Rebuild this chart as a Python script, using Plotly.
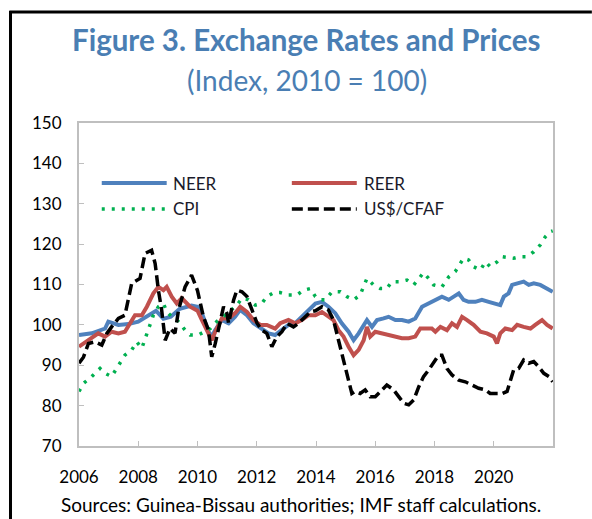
import plotly.graph_objects as go

# ---- data (index 2010 = 100) ----
NEER_X = [2006.00, 2006.43, 2006.88, 2006.99, 2007.33, 2007.67, 2008.00, 2008.35, 2008.60, 2008.85,
          2009.10, 2009.40, 2009.80, 2010.00, 2010.15, 2010.37, 2010.48, 2010.60, 2010.82, 2011.05,
          2011.27, 2011.44, 2011.67, 2011.89, 2012.17, 2012.40, 2012.62, 2012.85, 2013.07, 2013.30,
          2013.52, 2013.75, 2013.98, 2014.20, 2014.42, 2014.65, 2014.87, 2015.10, 2015.27, 2015.44,
          2015.61, 2015.72, 2015.89, 2016.06, 2016.28, 2016.45, 2016.68, 2016.90, 2017.13, 2017.35,
          2017.58, 2017.80, 2018.03, 2018.25, 2018.48, 2018.70, 2018.82, 2018.98, 2019.15, 2019.38,
          2019.60, 2019.83, 2020.05, 2020.22, 2020.34, 2020.50, 2020.62, 2020.79, 2021.01, 2021.18,
          2021.35, 2021.57, 2021.80, 2021.99]
NEER = [97.5, 97.9, 99.1, 100.8, 100.0, 100.2, 100.8, 102.5, 103.5, 101.5,
        102.0, 104.0, 104.8, 104.5, 102.9, 98.3, 97.1, 98.7, 101.2, 100.4,
        102.0, 103.7, 102.4, 100.4, 99.1, 97.9, 97.5, 98.7, 100.0, 100.4,
        102.0, 103.7, 105.3, 105.7, 104.5, 102.9, 100.4, 98.3, 96.2, 97.9,
        100.0, 101.2, 99.5, 101.2, 101.6, 102.0, 101.2, 101.2, 100.8, 101.6,
        104.5, 105.3, 106.2, 107.0, 106.2, 107.4, 107.8, 106.2, 105.7, 105.7,
        106.2, 105.7, 105.3, 104.9, 107.0, 107.8, 109.9, 110.3, 110.7, 109.9,
        110.3, 109.9, 109.0, 108.2]

REER_X = [2006.00, 2006.32, 2006.65, 2006.88, 2007.10, 2007.33, 2007.55, 2007.89, 2008.12, 2008.29,
          2008.51, 2008.68, 2008.85, 2008.96, 2009.13, 2009.30, 2009.47, 2009.75, 2010.00, 2010.15,
          2010.37, 2010.48, 2010.60, 2010.82, 2011.05, 2011.27, 2011.44, 2011.67, 2011.89, 2012.12,
          2012.34, 2012.62, 2012.79, 2013.07, 2013.30, 2013.52, 2013.75, 2013.98, 2014.20, 2014.42,
          2014.59, 2014.76, 2014.93, 2015.10, 2015.27, 2015.44, 2015.61, 2015.72, 2015.83, 2016.00,
          2016.23, 2016.45, 2016.68, 2016.90, 2017.13, 2017.35, 2017.52, 2017.69, 2017.91, 2018.03,
          2018.20, 2018.42, 2018.59, 2018.76, 2018.93, 2019.10, 2019.32, 2019.55, 2019.77, 2020.00,
          2020.11, 2020.22, 2020.39, 2020.62, 2020.79, 2021.01, 2021.24, 2021.40, 2021.63, 2021.80,
          2021.99]
REER = [94.6, 96.2, 97.9, 97.1, 98.3, 97.9, 98.3, 102.4, 102.4, 104.5,
        107.8, 109.4, 108.6, 109.4, 107.0, 105.3, 106.6, 104.5, 103.5, 101.2,
        97.9, 96.2, 98.3, 101.6, 101.6, 102.9, 104.5, 103.2, 101.2, 100.0,
        100.0, 99.1, 100.4, 101.2, 100.4, 101.2, 102.4, 102.4, 103.2, 102.0,
        101.2, 98.7, 97.1, 94.6, 92.5, 93.8, 96.2, 99.5, 97.1, 98.3,
        97.9, 97.5, 97.1, 96.7, 96.7, 97.1, 99.1, 99.1, 99.1, 98.3,
        99.5, 98.7, 100.4, 99.5, 102.0, 101.2, 100.0, 98.3, 97.9, 97.1,
        95.4, 97.9, 99.1, 98.7, 100.0, 99.5, 99.1, 100.0, 101.2, 100.0,
        99.1]

CPI_X = [2006.00, 2006.15, 2006.43, 2006.71, 2006.88, 2007.10, 2007.27, 2007.55, 2007.78, 2007.95,
         2008.12, 2008.23, 2008.40, 2008.51, 2008.68, 2008.85, 2008.96, 2009.13, 2009.36, 2009.58,
         2009.75, 2010.03, 2010.43, 2010.65, 2010.93, 2011.16, 2011.33, 2011.50, 2011.72, 2011.95,
         2012.17, 2012.34, 2012.57, 2012.79, 2013.07, 2013.36, 2013.58, 2013.81, 2013.98, 2014.14,
         2014.31, 2014.54, 2014.82, 2015.04, 2015.27, 2015.49, 2015.72, 2015.94, 2016.17, 2016.39,
         2016.56, 2016.84, 2017.07, 2017.30, 2017.47, 2017.63, 2017.80, 2017.97, 2018.25, 2018.48,
         2018.70, 2018.98, 2019.15, 2019.32, 2019.55, 2019.72, 2019.88, 2020.11, 2020.28, 2020.45,
         2020.67, 2020.90, 2021.12, 2021.35, 2021.57, 2021.74, 2021.91, 2021.99]
CPI = [83.5, 85.5, 87.2, 89.2, 88.0, 87.2, 89.2, 92.5, 93.8, 95.8,
       94.2, 96.6, 100.0, 102.4, 104.5, 105.3, 103.3, 102.0, 100.8, 98.7,
       97.5, 97.5, 99.1, 100.8, 102.4, 103.7, 104.9, 106.6, 106.2, 104.9,
       105.3, 107.0, 108.0, 108.0, 107.4, 107.4, 108.6, 109.0, 107.0, 106.2,
       106.2, 108.2, 108.2, 107.0, 106.2, 107.4, 111.5, 109.9, 109.0, 109.0,
       110.7, 110.7, 111.1, 109.9, 111.5, 112.9, 111.5, 109.9, 109.4, 111.9,
       113.2, 116.5, 116.1, 114.4, 113.6, 115.6, 114.4, 115.6, 116.9, 116.7,
       116.5, 116.9, 116.9, 118.1, 119.8, 121.8, 123.1, 123.3]

USD_X = [2006.00, 2006.15, 2006.32, 2006.54, 2006.77, 2006.94, 2007.10, 2007.33, 2007.55, 2007.78,
         2008.06, 2008.23, 2008.45, 2008.57, 2008.68, 2008.79, 2008.91, 2009.07, 2009.24, 2009.36,
         2009.58, 2009.80, 2010.00, 2010.20, 2010.37, 2010.48, 2010.60, 2010.77, 2010.88, 2010.99,
         2011.05, 2011.22, 2011.33, 2011.50, 2011.67, 2011.84, 2012.01, 2012.17, 2012.34, 2012.51,
         2012.68, 2012.85, 2013.02, 2013.24, 2013.41, 2013.64, 2013.81, 2013.98, 2014.20, 2014.42,
         2014.59, 2014.76, 2014.93, 2015.10, 2015.21, 2015.32, 2015.49, 2015.66, 2015.83, 2016.00,
         2016.17, 2016.39, 2016.62, 2016.79, 2016.96, 2017.13, 2017.30, 2017.47, 2017.63, 2017.80,
         2017.97, 2018.14, 2018.25, 2018.42, 2018.59, 2018.82, 2019.04, 2019.26, 2019.49, 2019.72,
         2019.88, 2020.05, 2020.28, 2020.45, 2020.56, 2020.67, 2020.84, 2021.01, 2021.18, 2021.35,
         2021.52, 2021.69, 2021.86, 2021.99]
USD = [90.5, 92.0, 95.4, 95.8, 95.0, 97.9, 99.5, 101.6, 102.4, 110.3,
       111.5, 117.7, 118.5, 115.2, 108.6, 103.7, 96.2, 99.1, 97.9, 103.7,
       109.4, 112.3, 108.5, 102.0, 98.7, 92.1, 95.4, 101.2, 104.5, 102.9,
       100.4, 106.2, 108.6, 108.2, 107.0, 103.7, 100.4, 98.7, 97.9, 94.6,
       97.1, 98.3, 100.4, 99.5, 100.4, 102.0, 103.2, 103.5, 104.5, 103.7,
       101.2, 96.2, 91.3, 86.3, 83.0, 83.5, 83.0, 83.9, 82.2, 82.2,
       83.5, 85.1, 83.9, 82.2, 80.6, 80.2, 81.4, 84.7, 87.2, 88.8,
       90.5, 92.5, 92.5, 89.2, 87.6, 86.3, 85.9, 85.1, 84.3, 83.9,
       83.0, 83.0, 83.0, 83.5, 86.3, 88.8, 89.2, 91.3, 90.5, 90.9,
       89.6, 88.0, 87.2, 85.9]

YEAR_TICKS = [2006, 2008, 2010, 2012, 2014, 2016, 2018, 2020]

BLUE = "#4F81BD"
RED = "#C0504D"
GREEN = "#00B050"
BLACK = "#000000"
TITLE_BLUE = "#4A7EB3"
FONT = "Lato"

series = [
    ("NEER", NEER_X, NEER, dict(color=BLUE, width=4)),
    ("REER", REER_X, REER, dict(color=RED, width=4)),
    ("CPI", CPI_X, CPI, dict(color=GREEN, width=3.5, dash="3px,7px")),
    ("US$/CFAF", USD_X, USD, dict(color=BLACK, width=3.5, dash="11px,5px")),
]

fig = go.Figure()
for name, xs, ys, line in series:
    fig.add_trace(go.Scatter(x=xs, y=ys, mode="lines", name=name, line=line,
                             showlegend=False, hoverinfo="skip"))

# hand-made legend: two columns, long line samples like the original
legend_pos = {"NEER": (0.048, 0.814), "REER": (0.449, 0.814),
              "CPI": (0.048, 0.734), "US$/CFAF": (0.449, 0.734)}
shapes = []
annotations = []
for name, xs, ys, line in series:
    lx, ly = legend_pos[name]
    shapes.append(dict(type="line", xref="paper", yref="paper",
                       x0=lx, x1=lx + 0.137, y0=ly, y1=ly,
                       line=dict(color=line["color"], width=line["width"],
                                 dash=line.get("dash", "solid"))))
    annotations.append(dict(text=name, xref="paper", yref="paper", x=lx + 0.147, y=ly,
                            xanchor="left", yanchor="middle", showarrow=False,
                            font=dict(family=FONT, size=17, color="#1a1a2a")))

# frame lines of the figure box (left + top), stopping at the page edge
shapes.append(dict(type="line", xref="paper", yref="paper", x0=-0.1445, x1=-0.1445,
                   y0=1.347, y1=-0.226, line=dict(color="black", width=3)))
shapes.append(dict(type="line", xref="paper", yref="paper", x0=-0.147, x1=1.082,
                   y0=1.3437, y1=1.3437, line=dict(color="black", width=3)))

annotations += [
    dict(text="<b>Figure 3. Exchange Rates and Prices</b>", xref="paper", yref="paper",
         x=0.481, y=1.257, xanchor="center", yanchor="middle", showarrow=False,
         font=dict(family=FONT, size=29.5, color=TITLE_BLUE)),
    dict(text="(Index, 2010 = 100)", xref="paper", yref="paper",
         x=0.481, y=1.133, xanchor="center", yanchor="middle", showarrow=False,
         font=dict(family=FONT, size=28, color=TITLE_BLUE)),
    dict(text="Sources: Guinea-Bissau authorities; IMF staff calculations.",
         xref="paper", yref="paper", x=-0.042, y=-0.18, xanchor="left", yanchor="middle",
         showarrow=False, font=dict(family=FONT, size=19, color="black")),
]

fig.update_layout(
    width=592, height=519,
    margin=dict(l=79, r=39, t=123, b=73),
    plot_bgcolor="white", paper_bgcolor="white",
    shapes=shapes, annotations=annotations,
    font=dict(family=FONT, size=17, color="black"),
)
fig.update_xaxes(range=[2006, 2022], tickvals=YEAR_TICKS, ticktext=[str(y) for y in YEAR_TICKS],
                 ticks="inside", ticklen=5, tickcolor="#BFBFBF", showgrid=False,
                 showline=True, linecolor="#BFBFBF", linewidth=2, mirror=True, zeroline=False,
                 ticklabelstandoff=15,
                 tickfont=dict(family=FONT, size=17, color="black"))
fig.update_yaxes(range=[70, 150], dtick=10, ticks="inside", ticklen=5, tickcolor="#BFBFBF",
                 showgrid=False, showline=True, linecolor="#BFBFBF", linewidth=2, mirror=True,
                 zeroline=False, ticklabelstandoff=12,
                 tickfont=dict(family=FONT, size=17, color="black"))

# drop the default 8px page margin and scrollbars so the figure fills the window
fig.write_html("out.html", config={"displayModeBar": False}, post_script=(
    "document.body.style.margin='0';"
    "document.body.style.overflow='hidden';"
    "document.documentElement.style.overflow='hidden';"))
